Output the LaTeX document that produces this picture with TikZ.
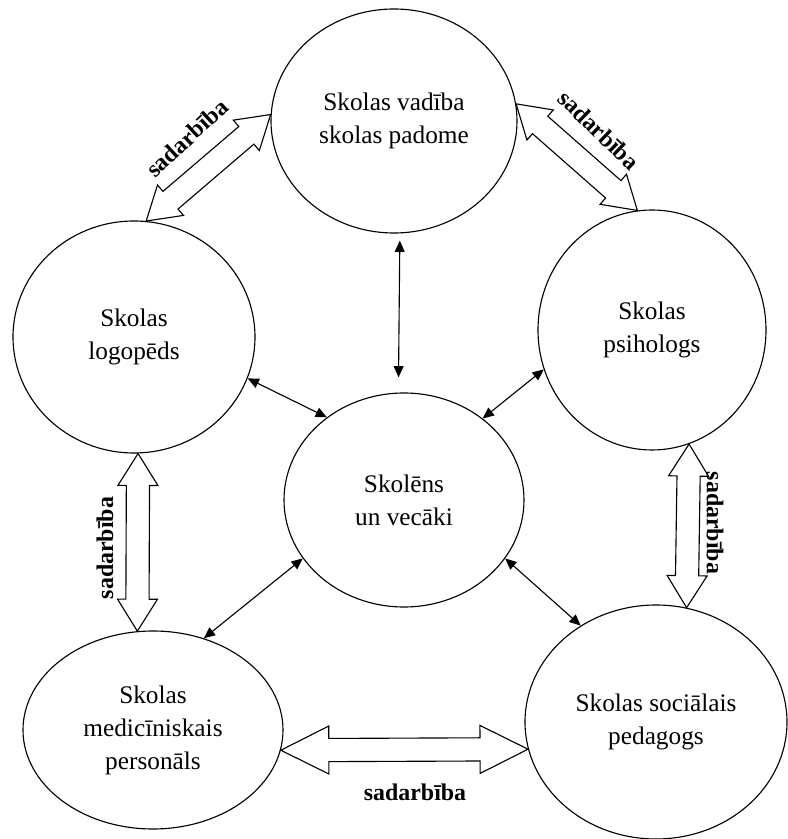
\documentclass[tikz,border=0pt]{standalone}
\usepackage{fontspec}
\setmainfont{Liberation Serif}
\usetikzlibrary{arrows.meta, shapes.geometric, calc}

% hollow two-headed arrow: from, to, head length, head half width
\newcommand{\coop}[4]{%
  \draw[coop] (#1) -- ($(#1)!#3!(#2)!#4!90:(#2)$) -- ($(#1)!#3!(#2)!0.29cm!90:(#2)$)
    -- ($(#2)!#3!(#1)!0.29cm!-90:(#1)$) -- ($(#2)!#3!(#1)!#4!-90:(#1)$) -- (#2)
    -- ($(#2)!#3!(#1)!#4!90:(#1)$) -- ($(#2)!#3!(#1)!0.29cm!90:(#1)$)
    -- ($(#1)!#3!(#2)!0.29cm!-90:(#2)$) -- ($(#1)!#3!(#2)!#4!-90:(#2)$) -- cycle;}

\begin{document}
\begin{tikzpicture}[
    circ/.style={draw, ellipse, line width=0.8pt, inner sep=0pt, align=center, font=\fontsize{18}{23.5}\selectfont},
    link/.style={{Triangle[length=8pt,width=7pt]}-{Triangle[length=8pt,width=7pt]}, line width=0.8pt},
    coop/.style={draw, line width=0.8pt, fill=white, line join=miter},
    lbl/.style={font=\fontsize{17}{20}\selectfont\bfseries}
]
\useasboundingbox (0,0) rectangle (19.7,20.975);

\node[circ, minimum width=6.15cm, minimum height=5.6cm] (top) at (9.85,17.95) {Skolas vadība\\skolas padome};
\node[circ, minimum width=6.05cm, minimum height=5.8cm] (logo) at (3.35,12.55) {Skolas\\logopēds};
\node[circ, minimum width=5.7cm, minimum height=6.0cm] (psih) at (16.3,12.725) {Skolas\\psihologs};
\node[circ, minimum width=6.0cm, minimum height=5.35cm] (mid) at (10.1,8.475) {Skolēns\\un vecāki};
\node[circ, minimum width=6.5cm, minimum height=4.95cm] (med) at (3.825,2.725) {Skolas\\medicīniskais\\personāls};
\node[circ, minimum width=6.55cm, minimum height=5.85cm] (soc) at (16.4,2.925) {Skolas sociālais\\pedagogs};

\draw[link, shorten <=0.18cm, shorten >=0.38cm] (top.-87) -- (mid.93);
\draw[link] (logo.-20) -- (mid.133);
\draw[link] (psih.200) -- (mid.46);
\draw[link] (mid.210) -- (med.61);
\draw[link] (mid.-30) -- (soc.128);

\coop{logo.84}{top.177}{0.8cm}{0.5cm}
\coop{top.8}{psih.97}{0.8cm}{0.5cm}
\coop{logo.-88}{med.99}{0.8cm}{0.5cm}
\coop{psih.-72}{soc.75}{0.8cm}{0.5cm}
\coop{med.-9}{soc.192}{1.2cm}{0.6cm}

\node[lbl, rotate=43] (coop1) at (4.675,17.525) {sadarbība};
\node[lbl, rotate=-44] (coop2) at (14.975,17.725) {sadarbība};
\node[lbl, rotate=90] (coop3) at (2.625,7.275) {sadarbība};
\node[lbl, rotate=-90] (coop4) at (17.875,7.9) {sadarbība};
\node[lbl] (coop5) at (10.375,1.175) {sadarbība};

\end{tikzpicture}
\end{document}
